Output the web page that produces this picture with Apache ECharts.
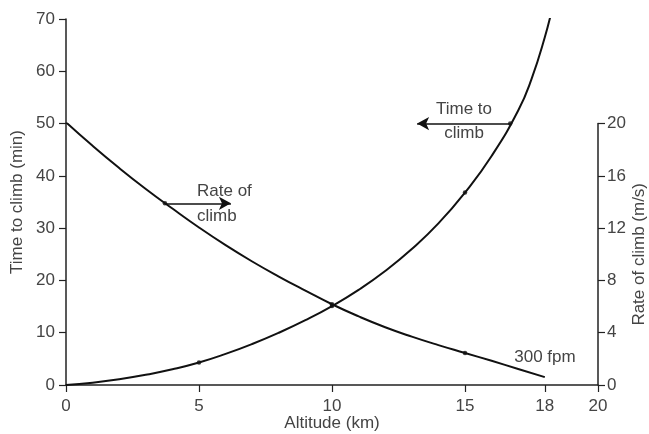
<!DOCTYPE html>
<html><head><meta charset="utf-8">
<script src="https://cdn.jsdelivr.net/npm/echarts@6/dist/echarts.min.js"></script>
<style>html,body{margin:0;padding:0;background:#fff}#c{width:649px;height:434px}</style>
</head><body><div id="c"></div>
<script>
// Altitude (km) samples
const altitudeTime = [0,1,2,3,4,5,6,7,8,9,10,11,12,13,14,15,16,17,17.5,18,18.3];
const timeToClimb  = [0,0.45,1.1,1.95,3.0,4.3,5.95,7.85,10.0,12.4,15.1,18.2,21.8,26.0,30.9,36.8,43.8,52.5,58.5,66.5,72.5];
const altitudeRate = [0,1,2,3,4,5,6,7,8,9,10,11,12,13,14,15,16,17,18];
const rateOfClimb  = [20.1,18.3,16.6,15.0,13.5,12.05,10.7,9.45,8.3,7.22,6.18,5.25,4.42,3.7,3.05,2.45,1.85,1.23,0.6];
// marked points
const timeDotsX = [5,10,15,16.7];
const timeDotsY = [4.3,15.1,36.8,50.0];
const rateDotsX = [3.72,10,15];
const rateDotsY = [13.9,6.18,2.45];
const xTicks = [0,5,10,15,18,20];

const FONT = 'Liberation Sans, Arial, sans-serif';
const FS = 17;
const TXT = '#444';
const AX = '#222';
const zip = (a,b)=>a.map((v,i)=>[v,b[i]]);
const ts = {fontFamily:FONT,fontSize:FS,color:TXT};

const chart = echarts.init(document.getElementById('c'));
chart.setOption({
  animation:false,
  backgroundColor:'#fff',
  grid:[
    {left:66,right:51,top:19,bottom:49,outerBoundsMode:'none',containLabel:false},
    {left:66,right:51,top:123.6,bottom:49,outerBoundsMode:'none',containLabel:false}
  ],
  xAxis:[
    {type:'value',gridIndex:0,min:0,max:20,
     name:'Altitude (km)',nameLocation:'middle',nameGap:30,nameMoveOverlap:false,nameTextStyle:ts,
     axisLine:{show:true,onZero:false,lineStyle:{color:AX,width:1.5}},
     axisTick:{show:true,length:7,customValues:xTicks,lineStyle:{color:AX,width:1.2}},
     axisLabel:Object.assign({customValues:xTicks,margin:13},ts),
     splitLine:{show:false}},
    {type:'value',gridIndex:1,min:0,max:20,show:false}
  ],
  yAxis:[
    {type:'value',gridIndex:0,min:0,max:70,interval:10,
     name:'Time to climb (min)',nameLocation:'middle',nameGap:40,nameMoveOverlap:false,nameTextStyle:ts,
     axisLine:{show:true,onZero:false,lineStyle:{color:AX,width:1.5}},
     axisTick:{show:true,length:7,lineStyle:{color:AX,width:1.2}},
     axisLabel:Object.assign({margin:11},ts),
     splitLine:{show:false}},
    {type:'value',gridIndex:1,position:'right',min:0,max:20,interval:4,
     name:'Rate of climb (m/s)',nameLocation:'middle',nameGap:33,nameRotate:90,nameMoveOverlap:false,nameTextStyle:ts,
     axisLine:{show:true,onZero:false,lineStyle:{color:AX,width:1.5}},
     axisTick:{show:true,length:7,lineStyle:{color:AX,width:1.2}},
     axisLabel:Object.assign({margin:9},ts),
     splitLine:{show:false}}
  ],
  series:[
    {type:'line',xAxisIndex:0,yAxisIndex:0,data:zip(altitudeTime,timeToClimb),
     smooth:0.5,showSymbol:false,clip:true,lineStyle:{color:'#111',width:2},
     markLine:{silent:true,symbol:['none','arrow'],symbolSize:[10,12],
       lineStyle:{color:'#111',width:1.5,type:'solid'},label:{show:false},
       data:[[{coord:[16.7,50.0]},{coord:[13.2,50.0]}]]}},
    {type:'line',xAxisIndex:1,yAxisIndex:1,data:zip(altitudeRate,rateOfClimb),
     smooth:0.5,showSymbol:false,lineStyle:{color:'#111',width:2},
     markLine:{silent:true,symbol:['none','arrow'],symbolSize:[10,12],
       lineStyle:{color:'#111',width:1.5,type:'solid'},label:{show:false},
       data:[[{coord:[3.72,13.9]},{coord:[6.2,13.9]}]]}},
    {type:'scatter',xAxisIndex:0,yAxisIndex:0,data:zip(timeDotsX,timeDotsY),
     symbolSize:4.5,itemStyle:{color:'#111'}},
    {type:'scatter',xAxisIndex:1,yAxisIndex:1,data:zip(rateDotsX,rateDotsY),
     symbolSize:4.5,itemStyle:{color:'#111'}}
  ],
  graphic:[
    {type:'text',x:197,y:191,style:{text:'Rate of',fontFamily:FONT,fontSize:FS,fill:TXT,align:'left',verticalAlign:'middle'}},
    {type:'text',x:197,y:216,style:{text:'climb',fontFamily:FONT,fontSize:FS,fill:TXT,align:'left',verticalAlign:'middle'}},
    {type:'text',x:464,y:109,style:{text:'Time to',fontFamily:FONT,fontSize:FS,fill:TXT,align:'center',verticalAlign:'middle'}},
    {type:'text',x:464,y:133,style:{text:'climb',fontFamily:FONT,fontSize:FS,fill:TXT,align:'center',verticalAlign:'middle'}},
    {type:'text',x:545,y:357,style:{text:'300 fpm',fontFamily:FONT,fontSize:FS,fill:TXT,align:'center',verticalAlign:'middle'}}
  ]
});
</script></body></html>
